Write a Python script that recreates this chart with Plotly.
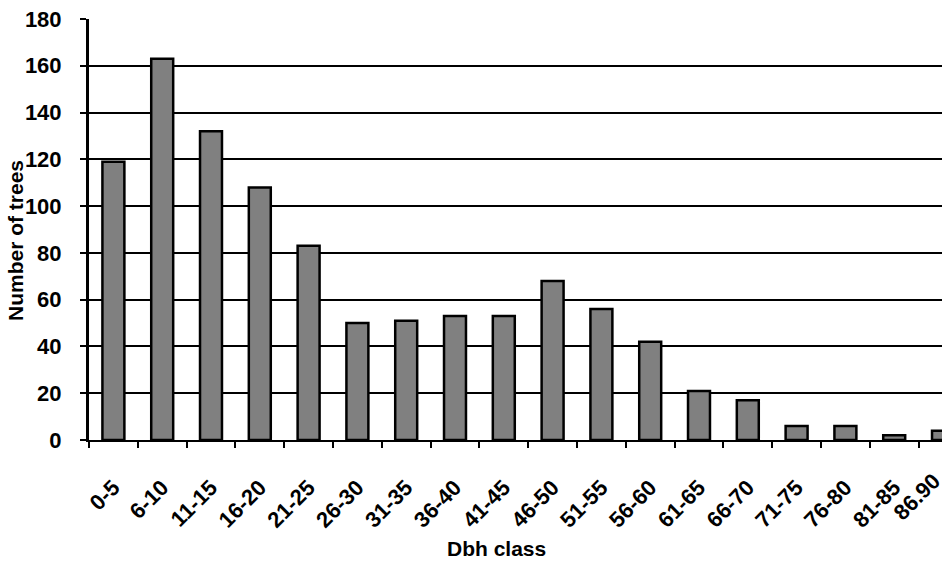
import plotly.graph_objects as go

# Diameter-at-breast-height classes (cm) and tree counts
dbh_classes = ["0-5", "6-10", "11-15", "16-20", "21-25", "26-30", "31-35", "36-40",
               "41-45", "46-50", "51-55", "56-60", "61-65", "66-70", "71-75", "76-80",
               "81-85", "86.90"]
tree_counts = [119, 163, 132, 108, 83, 50, 51, 53, 53, 68, 56, 42, 21, 17, 6, 6, 2, 4]
y_ticks = [0, 20, 40, 60, 80, 100, 120, 140, 160, 180]

W, H = 942, 569
M_L, M_T, M_B, M_R = 89, 19, 129, 0
plot_w = W - M_L - M_R
plot_h = H - M_T - M_B
cat_px = 48.8  # width of one category slot in pixels

FONT = "Liberation Sans, Arial, sans-serif"
TICK_FONT = dict(family=FONT, size=22, weight="bold", color="black")

fig = go.Figure(
    go.Bar(
        x=dbh_classes,
        y=tree_counts,
        marker=dict(color="#808080", line=dict(color="black", width=2.5)),
        width=0.45,
    )
)

x_end = -0.5 + plot_w / cat_px

fig.update_layout(
    width=W,
    height=H,
    margin=dict(l=M_L, r=M_R, t=M_T, b=M_B, pad=0),
    paper_bgcolor="white",
    plot_bgcolor="white",
    showlegend=False,
    font=dict(family=FONT, color="black", size=22, weight="bold"),
    xaxis=dict(
        type="category",
        range=[-0.5, x_end],
        tickangle=-45,
        tickson="boundaries",
        ticks="outside",
        ticklen=6,
        tickwidth=2,
        tickcolor="black",
        ticklabelstandoff=24,
        tickfont=TICK_FONT,
        showline=True,
        linecolor="black",
        linewidth=2,
        showgrid=False,
        zeroline=False,
    ),
    yaxis=dict(
        range=[0, 180],
        tickvals=y_ticks,
        ticks="outside",
        ticklen=6,
        tickwidth=2,
        tickcolor="black",
        ticklabelstandoff=14,
        tickfont=dict(family=FONT, size=22, weight="bold", color="black"),
        showline=True,
        linecolor="black",
        linewidth=3,
        showgrid=True,
        gridcolor="black",
        gridwidth=2,
        zeroline=False,
    ),
)

# Last class label sits past the right edge of the axis range;
# place it where the category axis maps that class
last_idx = len(dbh_classes) - 1
last_paper_x = (last_idx + 0.5) / (x_end + 0.5)
fig.add_annotation(
    x=last_paper_x, y=0, xref="paper", yref="paper",
    text=dbh_classes[-1], textangle=-45, showarrow=False,
    xanchor="right", yanchor="top", xshift=5, yshift=-25,
    font=TICK_FONT,
)

# Axis titles
fig.add_annotation(
    x=(15 - M_L) / plot_w, y=(H - M_B - 241) / plot_h, xref="paper", yref="paper",
    text="Number of trees", textangle=-90, showarrow=False,
    xanchor="center", yanchor="middle",
    font=dict(family=FONT, size=21, weight="bold", color="black"),
)
fig.add_annotation(
    x=(496 - M_L) / plot_w, y=(H - M_B - 548) / plot_h, xref="paper", yref="paper",
    text="Dbh class", showarrow=False,
    xanchor="center", yanchor="middle",
    font=dict(family=FONT, size=21, weight="bold", color="black"),
)

fig.write_html("out.html")
